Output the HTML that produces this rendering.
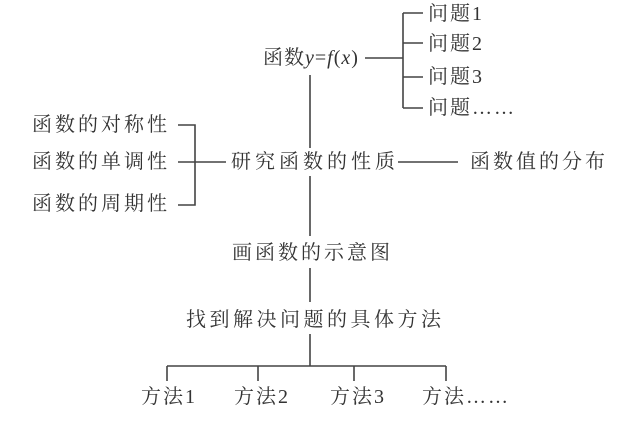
<!DOCTYPE html>
<html><head><meta charset="utf-8"><style>
body{margin:0;background:#fff;}
#c{position:relative;width:629px;height:421px;overflow:hidden;font-family:"Liberation Serif","Noto Serif CJK SC",serif;color:#333;font-size:20px;}
.t{position:absolute;white-space:nowrap;line-height:22px;}
i{font-style:italic;}
svg{position:absolute;left:0;top:0;}
</style></head><body><div id="c">
<svg width="629" height="421"><g stroke="#444" stroke-width="1.6" fill="none">
<path d="M365 58H403M403 13V108M403 13H423M403 43H423M403 77H423M403 108H423"/>
<path d="M310 75V148M310 176V236M310 268V302M310 334V366"/>
<path d="M178 125H195V205H178M178 162H226M398 162H458"/>
<path d="M167 366H446M167 366V381M258 366V381M354 366V381M446 366V381"/>
</g></svg>
<div class="t" style="left:263px;top:47px;letter-spacing:1px;">函数<i>y</i>=<i>f</i>(<i>x</i>)</div>
<div class="t" style="left:428px;top:3px;letter-spacing:2px;">问题1</div>
<div class="t" style="left:428px;top:33px;letter-spacing:2px;">问题2</div>
<div class="t" style="left:428px;top:66px;letter-spacing:2px;">问题3</div>
<div class="t" style="left:428px;top:97px;letter-spacing:2px;">问题……</div>
<div class="t" style="left:32px;top:114px;letter-spacing:3px;">函数的对称性</div>
<div class="t" style="left:32px;top:151px;letter-spacing:3px;">函数的单调性</div>
<div class="t" style="left:32px;top:193px;letter-spacing:3px;">函数的周期性</div>
<div class="t" style="left:231px;top:151px;letter-spacing:4px;">研究函数的性质</div>
<div class="t" style="left:470px;top:151px;letter-spacing:3px;">函数值的分布</div>
<div class="t" style="left:232px;top:242px;letter-spacing:3px;">画函数的示意图</div>
<div class="t" style="left:186px;top:309px;letter-spacing:3.5px;">找到解决问题的具体方法</div>
<div class="t" style="left:141px;top:386px;letter-spacing:2px;">方法1</div>
<div class="t" style="left:234px;top:386px;letter-spacing:2px;">方法2</div>
<div class="t" style="left:330px;top:386px;letter-spacing:2px;">方法3</div>
<div class="t" style="left:422px;top:386px;letter-spacing:2px;">方法……</div>
</div></body></html>
